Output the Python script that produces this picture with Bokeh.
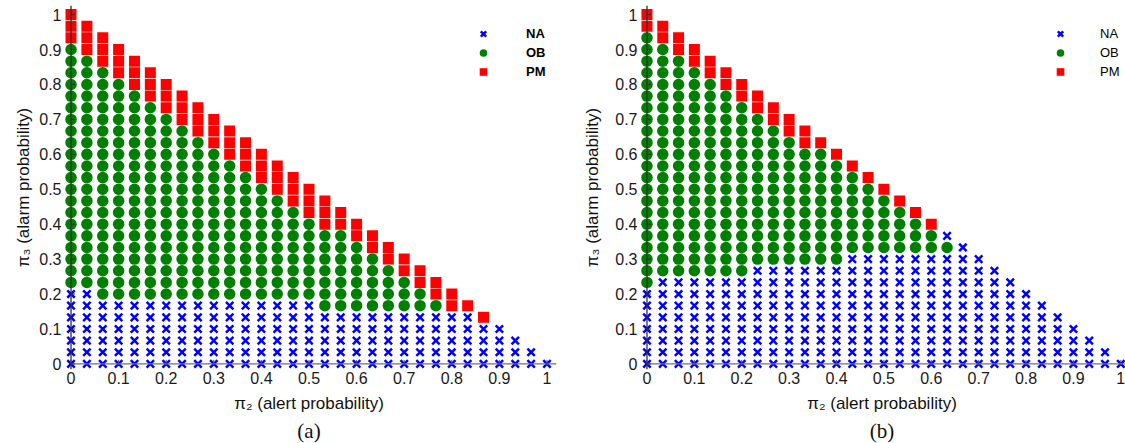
from bokeh.plotting import figure
from bokeh.models import (ColumnDataSource, Legend, LegendItem, FixedTicker,
                          Range1d, Title, Span)
from bokeh.layouts import row
from bokeh.embed import file_html
from bokeh.resources import INLINE

# grid of probabilities (step 1/30) on both axes
pi_grid = [i / 30 for i in range(31)]
tick_values = [0, 0.1, 0.2, 0.3, 0.4, 0.5, 0.6, 0.7, 0.8, 0.9, 1]
tick_labels = ["0", "0.1", "0.2", "0.3", "0.4", "0.5", "0.6", "0.7", "0.8", "0.9", "1"]
class_names = ["NA", "OB", "PM"]
class_colors = ["#0000ff", "#008000", "#ff0000"]

# panel (a): per column of pi2, number of points of each class stacked from pi3=0 upward
a_na = [7, 7, 6, 6, 6, 6, 6, 6, 6, 6, 6, 6, 6, 6, 6, 6, 5, 5, 5, 5, 5, 5, 5, 5, 5, 5, 4, 4, 3, 2, 1]
a_ob = [21, 20, 20, 19, 18, 17, 16, 15, 14, 13, 12, 11, 10, 9, 8, 7, 7, 7, 6, 5, 4, 3, 2, 1, 0, 0, 0, 0, 0, 0, 0]
a_pm = [3, 3, 3, 3, 3, 3, 3, 3, 3, 3, 3, 3, 3, 3, 3, 3, 3, 2, 2, 2, 2, 2, 2, 2, 2, 1, 1, 0, 0, 0, 0]
a_na_top = [0, 0, 0, 0, 0, 0, 0, 0, 0, 0, 0, 0, 0, 0, 0, 0, 0, 0, 0, 0, 0, 0, 0, 0, 0, 0, 0, 0, 0, 0, 0]

# panel (b)
b_na = [7, 8, 8, 8, 8, 8, 8, 9, 9, 9, 9, 9, 9, 10, 10, 10, 10, 10, 10, 10, 11, 10, 9, 8, 7, 6, 5, 4, 3, 2, 1]
b_ob = [22, 20, 19, 18, 17, 16, 15, 13, 12, 11, 10, 10, 9, 7, 6, 5, 4, 3, 2, 1, 0, 0, 0, 0, 0, 0, 0, 0, 0, 0, 0]
b_pm = [2, 2, 2, 2, 2, 2, 2, 2, 2, 2, 2, 1, 1, 1, 1, 1, 1, 1, 1, 0, 0, 0, 0, 0, 0, 0, 0, 0, 0, 0, 0]
b_na_top = [0, 0, 0, 0, 0, 0, 0, 0, 0, 0, 0, 0, 0, 0, 0, 0, 0, 0, 0, 1, 0, 0, 0, 0, 0, 0, 0, 0, 0, 0, 0]

FONT = "Liberation Sans"
Y_RANGE = (-0.016, 1.026)


def build_points(na, ob, pm, na_top):
    pts = {c: {"x": [], "y": []} for c in class_names}
    for i in range(len(pi_grid)):
        j = 0
        for cls, n in (("NA", na[i]), ("OB", ob[i]), ("PM", pm[i]), ("NA", na_top[i])):
            for _ in range(n):
                pts[cls]["x"].append(pi_grid[i])
                pts[cls]["y"].append(pi_grid[j])
                j += 1
    return pts


def make_panel(pts, caption, bold, border_left, border_right, frame_w, xr,
               ylab_standoff, legend_x, legend_standoff):
    p = figure(frame_width=frame_w, frame_height=364,
               x_range=Range1d(*xr), y_range=Range1d(*Y_RANGE),
               output_backend="svg", toolbar_location=None,
               min_border_left=border_left, min_border_right=border_right,
               min_border_top=5, min_border_bottom=74)
    p.grid.visible = False
    p.outline_line_color = None
    p.background_fill_color = "white"

    r_na = p.scatter("x", "y", source=ColumnDataSource(pts["NA"]), marker="x",
                     size=10.5, line_color=class_colors[0], line_width=2.5)
    r_ob = p.scatter("x", "y", source=ColumnDataSource(pts["OB"]), marker="circle",
                     size=11.5, fill_color=class_colors[1], line_color=None)
    r_pm = p.scatter("x", "y", source=ColumnDataSource(pts["PM"]), marker="square",
                     size=11, fill_color=class_colors[2], line_color=None)

    # axis lines through the origin, with short inward ticks (drawn over the marks)
    p.segment(x0=[0], y0=[0], x1=[xr[1]], y1=[0], line_color="#707070", line_width=1.3)
    p.add_layout(Span(location=0, dimension="height", line_color="#303030", line_width=1.3))
    p.segment(x0=tick_values, y0=[0] * len(tick_values), x1=tick_values,
              y1=[0.0115] * len(tick_values), line_color="#505050", line_width=1)
    p.segment(x0=[0] * len(tick_values), y0=tick_values, x1=[0.0085] * len(tick_values),
              y1=tick_values, line_color="#303030", line_width=1)

    overrides = {v: s for v, s in zip(tick_values, tick_labels)}
    for ax in (p.xaxis[0], p.yaxis[0]):
        ax.ticker = FixedTicker(ticks=tick_values)
        ax.major_label_overrides = overrides
        ax.major_tick_in = 0
        ax.major_tick_out = 0
        ax.major_tick_line_color = None
        ax.minor_tick_line_color = None
        ax.axis_line_color = None
        ax.major_label_text_font = FONT
        ax.major_label_text_font_size = "16px"
        ax.major_label_text_color = "#1a1a1a"
        ax.axis_label_text_font = FONT
        ax.axis_label_text_font_size = "17px"
        ax.axis_label_text_font_style = "normal"
        ax.axis_label_text_color = "#111111"
    p.xaxis[0].major_label_standoff = 2
    p.yaxis[0].major_label_standoff = 0
    p.xaxis[0].axis_label = "π₂ (alert probability)"
    p.xaxis[0].axis_label_standoff = 7
    p.yaxis[0].axis_label = "π₃ (alarm probability)"
    p.yaxis[0].axis_label_standoff = ylab_standoff

    p.add_layout(Title(text=caption, align="center", text_font="Liberation Serif",
                       text_font_size="21px", text_font_style="normal",
                       text_color="#111111", standoff=3, offset=0), "below")

    legend = Legend(items=[LegendItem(label=class_names[0], renderers=[r_na]),
                           LegendItem(label=class_names[1], renderers=[r_ob]),
                           LegendItem(label=class_names[2], renderers=[r_pm])],
                    location=(legend_x, 288), border_line_color=None,
                    background_fill_alpha=0, padding=0, margin=0,
                    glyph_width=22, glyph_height=19, spacing=0,
                    label_standoff=legend_standoff, label_height=19,
                    label_text_font=FONT, label_text_font_size="13px",
                    label_text_font_style="bold" if bold else "normal",
                    label_text_color="#000000")
    p.add_layout(legend)
    return p


pa = make_panel(build_points(a_na, a_ob, a_pm, a_na_top), "(a)", True,
                61, 24, 495, (-0.02, 1.02), 3, 411, 32)
pb = make_panel(build_points(b_na, b_ob, b_pm, b_na_top), "(b)", False,
                55, 0, 489, (-0.02, 1.012), 10, 412, 29)

layout = row(pa, pb, spacing=0)
open("out.html", "w").write(file_html(layout, INLINE))
